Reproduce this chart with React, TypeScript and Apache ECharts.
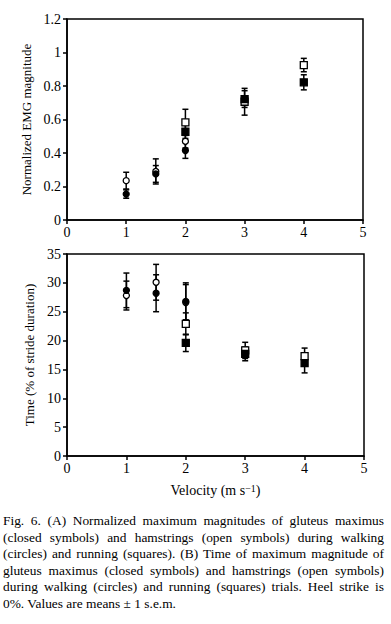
import React, { useEffect, useRef } from "react";
import * as echarts from "echarts";

// Velocities
const walkX = [1, 1.5, 2];
const runX = [2, 3, 4];
const xTicks = [0, 1, 2, 3, 4, 5];

// (A) Normalized EMG magnitude
const aGmWalk = [0.155, 0.275, 0.415];
const aGmWalkErr = [0.025, 0.05, 0.047];
const aHsWalk = [0.235, 0.29, 0.47];
const aHsWalkErr = [0.05, 0.075, 0.04];
const aGmRun = [0.527, 0.722, 0.822];
const aGmRunErr = [0.04, 0.05, 0.045];
const aHsRun = [0.583, 0.706, 0.925];
const aHsRunErr = [0.078, 0.08, 0.04];

// (B) Time (% of stride duration)
const bGmWalk = [28.7, 28.2, 26.8];
const bGmWalkErr = [3.0, 3.2, 3.2];
const bHsWalk = [27.8, 30.1, 26.6];
const bHsWalkErr = [2.5, 3.1, 3.1];
const bGmRun = [19.6, 17.7, 16.1];
const bGmRunErr = [1.5, 1.2, 1.7];
const bHsRun = [22.9, 18.3, 17.3];
const bHsRunErr = [1.9, 1.4, 1.4];

const captionLines = [
  "Fig. 6. (A) Normalized maximum magnitudes of gluteus maximus",
  "(closed symbols) and hamstrings (open symbols) during walking",
  "(circles) and running (squares). (B) Time of maximum magnitude of",
  "gluteus maximus (closed symbols) and hamstrings (open symbols)",
  "during walking (circles) and running (squares) trials. Heel strike is",
  "0%. Values are means \u00b1 1 s.e.m.",
];

const FONT = "Liberation Serif";

function errData(xs: number[], ys: number[], es: number[]) {
  return xs.map((x, i) => [x, ys[i] - es[i], ys[i] + es[i]]);
}
function ptData(xs: number[], ys: number[]) {
  return xs.map((x, i) => [x, ys[i]]);
}

function errSeries(idx: number, data: number[][]) {
  return {
    type: "custom",
    xAxisIndex: idx,
    yAxisIndex: idx,
    encode: { x: 0, y: [1, 2] },
    data,
    z: 2,
    renderItem: (params: any, api: any) => {
      const x = api.value(0);
      const lo = api.coord([x, api.value(1)]);
      const hi = api.coord([x, api.value(2)]);
      const w = 3;
      const st = { stroke: "#000", lineWidth: 1.5 };
      return {
        type: "group",
        children: [
          { type: "line", shape: { x1: lo[0], y1: lo[1], x2: hi[0], y2: hi[1] }, style: st },
          { type: "line", shape: { x1: lo[0] - w, y1: lo[1], x2: lo[0] + w, y2: lo[1] }, style: st },
          { type: "line", shape: { x1: hi[0] - w, y1: hi[1], x2: hi[0] + w, y2: hi[1] }, style: st },
        ],
      };
    },
  };
}

function markSeries(idx: number, data: number[][], symbol: string, open: boolean) {
  return {
    type: "scatter",
    xAxisIndex: idx,
    yAxisIndex: idx,
    data,
    symbol,
    symbolSize: symbol === "rect" ? 7 : 6,
    z: open ? 3 : 4,
    itemStyle: {
      color: open ? "#fff" : "#000",
      borderColor: "#000",
      borderWidth: 1.3,
      opacity: 1,
    },
  };
}

function xAxisCfg(idx: number, withName: boolean) {
  return {
    type: "value",
    gridIndex: idx,
    min: 0,
    max: 5,
    interval: 1,
    axisLine: { show: true, onZero: false, lineStyle: { color: "#000", width: 1.5 } },
    axisTick: { show: true, inside: false, length: 4, lineStyle: { color: "#000", width: 1.5 } },
    splitLine: { show: false },
    axisLabel: {
      color: "#000",
      fontFamily: FONT,
      fontSize: 14,
      margin: 5,
      formatter: (v: number) => (xTicks.includes(v) ? String(v) : ""),
    },
    name: withName ? "Velocity (m s{sup|\u22121})" : "",
    nameLocation: "middle",
    nameGap: 27,
    nameTextStyle: {
      color: "#000",
      fontFamily: FONT,
      fontSize: 14,
      rich: {
        sup: { fontSize: 10, fontFamily: FONT, color: "#000", verticalAlign: "top", lineHeight: 14, padding: [0, 0, 6, 0] },
      },
    },
  };
}

function yAxisCfg(idx: number, min: number, max: number, interval: number, name: string, fmt: (v: number) => string) {
  return {
    type: "value",
    gridIndex: idx,
    min,
    max,
    interval,
    axisLine: { show: true, onZero: false, lineStyle: { color: "#000", width: 1.5 } },
    axisTick: { show: true, inside: false, length: 4, lineStyle: { color: "#000", width: 1.5 } },
    splitLine: { show: false },
    axisLabel: { color: "#000", fontFamily: FONT, fontSize: 14, margin: 6, formatter: fmt },
    name,
    nameLocation: "middle",
    nameGap: 27,
    nameTextStyle: { color: "#000", fontFamily: FONT, fontSize: 13 },
  };
}

export default function App() {
  const ref = useRef<HTMLDivElement>(null);
  useEffect(() => {
    if (!ref.current) return;
    const chart = echarts.init(ref.current, undefined, { renderer: "svg" });
    chart.setOption({
      animation: false,
      backgroundColor: "#fff",
      grid: [
        { left: 67, top: 19, width: 296, height: 201, show: true, borderColor: "#000", borderWidth: 1.5, backgroundColor: "transparent" },
        { left: 67, top: 254, width: 297, height: 203, show: true, borderColor: "#000", borderWidth: 1.5, backgroundColor: "transparent" },
      ],
      xAxis: [xAxisCfg(0, false), xAxisCfg(1, true)],
      yAxis: [
        yAxisCfg(0, 0, 1.2, 0.2, "Normalized EMG magnitude", (v: number) => String(Math.round(v * 10) / 10)),
        yAxisCfg(1, 0, 35, 5, "Time (% of stride duration)", (v: number) => String(v)),
      ],
      series: [
        errSeries(0, errData(walkX, aHsWalk, aHsWalkErr)),
        errSeries(0, errData(walkX, aGmWalk, aGmWalkErr)),
        errSeries(0, errData(runX, aHsRun, aHsRunErr)),
        errSeries(0, errData(runX, aGmRun, aGmRunErr)),
        markSeries(0, ptData(walkX, aHsWalk), "circle", true),
        markSeries(0, ptData(walkX, aGmWalk), "circle", false),
        markSeries(0, ptData(runX, aHsRun), "rect", true),
        markSeries(0, ptData(runX, aGmRun), "rect", false),
        errSeries(1, errData(walkX, bHsWalk, bHsWalkErr)),
        errSeries(1, errData(walkX, bGmWalk, bGmWalkErr)),
        errSeries(1, errData(runX, bHsRun, bHsRunErr)),
        errSeries(1, errData(runX, bGmRun, bGmRunErr)),
        markSeries(1, ptData(walkX, bHsWalk), "circle", true),
        markSeries(1, ptData(walkX, bGmWalk), "circle", false),
        markSeries(1, ptData(runX, bHsRun), "rect", true),
        markSeries(1, ptData(runX, bGmRun), "rect", false),
      ],
    });
    return () => chart.dispose();
  }, []);

  return (
    <div style={{ position: "absolute", left: 0, top: 0, width: 391, height: 624, background: "#fff" }}>
      <div ref={ref} style={{ position: "absolute", left: 0, top: 0, width: 391, height: 500 }} />
      <div
        style={{
          position: "absolute",
          left: 3,
          top: 513,
          width: 381,
          fontFamily: FONT,
          fontSize: 13.4,
          lineHeight: "16.6px",
          color: "#000",
        }}
      >
        {captionLines.map((line, i) => (
          <div
            key={i}
            style={{
              whiteSpace: "nowrap",
              textAlign: i < captionLines.length - 1 ? "justify" : "left",
              textAlignLast: i < captionLines.length - 1 ? "justify" : "left",
            }}
          >
            {line}
          </div>
        ))}
      </div>
    </div>
  );
}
